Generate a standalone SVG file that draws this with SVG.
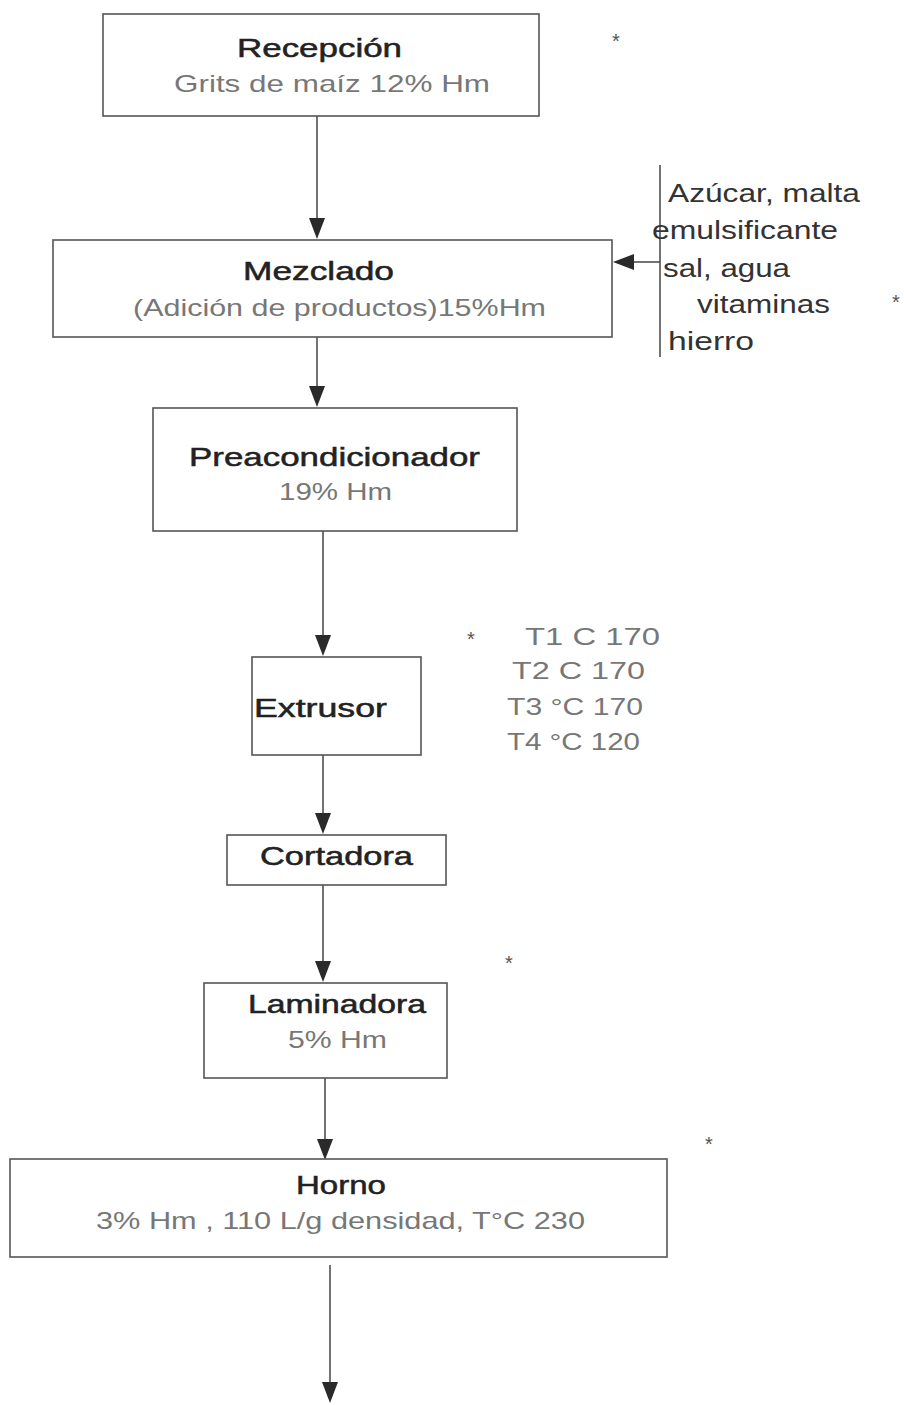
<svg xmlns="http://www.w3.org/2000/svg" width="904" height="1405" viewBox="0 0 904 1405" xml:space="preserve">
<style>
.box{fill:#fff;stroke:#555;stroke-width:1.6}
.t{font-family:"Liberation Sans",Arial,sans-serif;font-size:25px;fill:#222;stroke:#222;stroke-width:0.5}
.s{font-family:"Liberation Sans",Arial,sans-serif;font-size:24px;fill:#777}
.side{font-family:"Liberation Sans",Arial,sans-serif;font-size:25px;fill:#333}
.ast{font-family:"Liberation Sans",Arial,sans-serif;font-size:20px;fill:#555}
.c{stroke:#444;stroke-width:1.5;fill:none}
.ah{fill:#2a2a2a}
</style>
<g id="connectors">
<line class="c" x1="317" y1="116" x2="317" y2="222"/>
<path class="ah" d="M309,218 L325,218 L317,239 Z"/>
<line class="c" x1="317" y1="337" x2="317" y2="390"/>
<path class="ah" d="M309,386 L325,386 L317,407 Z"/>
<line class="c" x1="323" y1="531" x2="323" y2="639"/>
<path class="ah" d="M315,635 L331,635 L323,656 Z"/>
<line class="c" x1="323" y1="755" x2="323" y2="817"/>
<path class="ah" d="M315,813 L331,813 L323,834 Z"/>
<line class="c" x1="323" y1="885" x2="323" y2="965"/>
<path class="ah" d="M315,961 L331,961 L323,982 Z"/>
<line class="c" x1="325" y1="1078" x2="325" y2="1143"/>
<path class="ah" d="M317,1139 L333,1139 L325,1160 Z"/>
<line class="c" x1="330" y1="1265" x2="330" y2="1386"/>
<path class="ah" d="M322,1382 L338,1382 L330,1403 Z"/>
<line class="c" x1="660" y1="165" x2="660" y2="357"/>
<line class="c" x1="660" y1="262" x2="630" y2="262"/>
<path class="ah" d="M613,262 L634,254 L634,270 Z"/>
</g>
<g id="recepcion">
<rect class="box" x="103" y="14" width="436" height="102"/>
<text class="t" x="237" y="57" textLength="165" lengthAdjust="spacingAndGlyphs">Recepción</text>
<text class="s" x="174" y="92" textLength="316" lengthAdjust="spacingAndGlyphs">Grits de maíz  12% Hm</text>
</g>
<g id="mezclado">
<rect class="box" x="53" y="240" width="559" height="97"/>
<text class="t" x="243" y="280" textLength="151" lengthAdjust="spacingAndGlyphs">Mezclado</text>
<text class="s" x="133" y="316" textLength="413" lengthAdjust="spacingAndGlyphs">(Adición de productos)15%Hm</text>
</g>
<g id="aditivos">
<text class="side" x="668" y="202" textLength="192" lengthAdjust="spacingAndGlyphs">Azúcar, malta</text>
<text class="side" x="652" y="239" textLength="186" lengthAdjust="spacingAndGlyphs">emulsificante</text>
<text class="side" x="663" y="277" textLength="127" lengthAdjust="spacingAndGlyphs">sal, agua</text>
<text class="side" x="697" y="313" textLength="133" lengthAdjust="spacingAndGlyphs">vitaminas</text>
<text class="side" x="668" y="350" textLength="86" lengthAdjust="spacingAndGlyphs">hierro</text>
</g>
<g id="preacondicionador">
<rect class="box" x="153" y="408" width="364" height="123"/>
<text class="t" x="189" y="466" textLength="291" lengthAdjust="spacingAndGlyphs">Preacondicionador</text>
<text class="s" x="279" y="500" textLength="113" lengthAdjust="spacingAndGlyphs">19% Hm</text>
</g>
<g id="extrusor">
<rect class="box" x="252" y="657" width="169" height="98"/>
<text class="t" x="254" y="717" textLength="133" lengthAdjust="spacingAndGlyphs">Extrusor</text>
</g>
<g id="temperaturas">
<text class="s" x="525" y="645" textLength="135" lengthAdjust="spacingAndGlyphs">T1  C 170</text>
<text class="s" x="512" y="679" textLength="133" lengthAdjust="spacingAndGlyphs">T2  C 170</text>
<text class="s" x="507" y="715" textLength="136" lengthAdjust="spacingAndGlyphs">T3 °C 170</text>
<text class="s" x="507" y="750" textLength="133" lengthAdjust="spacingAndGlyphs">T4 °C 120</text>
</g>
<g id="cortadora">
<rect class="box" x="227" y="835" width="219" height="50"/>
<text class="t" x="260" y="865" textLength="153" lengthAdjust="spacingAndGlyphs">Cortadora</text>
</g>
<g id="laminadora">
<rect class="box" x="204" y="983" width="243" height="95"/>
<text class="t" x="248" y="1013" textLength="178" lengthAdjust="spacingAndGlyphs">Laminadora</text>
<text class="s" x="288" y="1048" textLength="99" lengthAdjust="spacingAndGlyphs">5% Hm</text>
</g>
<g id="horno">
<rect class="box" x="10" y="1159" width="657" height="98"/>
<text class="t" x="296" y="1194" textLength="90" lengthAdjust="spacingAndGlyphs">Horno</text>
<text class="s" x="96" y="1229" textLength="489" lengthAdjust="spacingAndGlyphs">3% Hm , 110 L/g densidad, T°C 230</text>
</g>
<g id="asteriscos">
<text class="ast" x="612" y="48">*</text>
<text class="ast" x="892" y="309">*</text>
<text class="ast" x="467" y="646">*</text>
<text class="ast" x="505" y="970">*</text>
<text class="ast" x="705" y="1151">*</text>
</g>
</svg>
